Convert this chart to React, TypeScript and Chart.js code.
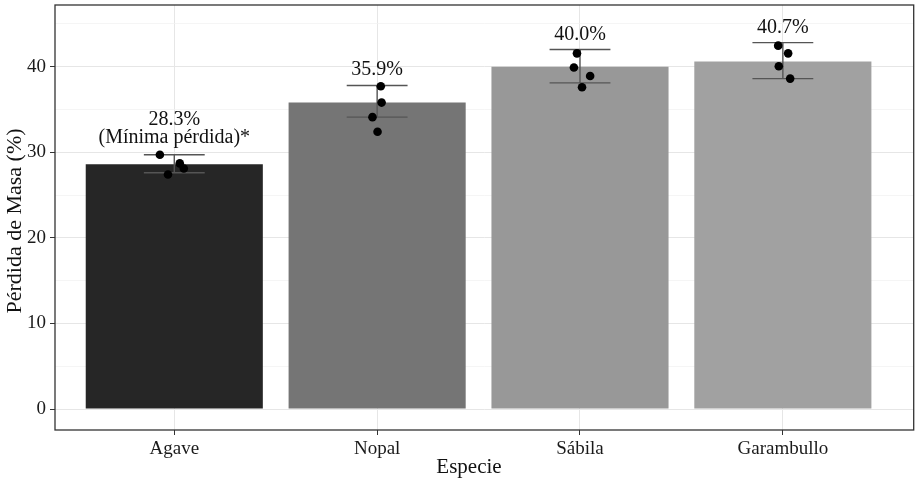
import React, { useRef, useEffect } from 'react';
import { Chart, registerables } from 'chart.js';

Chart.register(...registerables);

// values
const species = ['Agave', 'Nopal', 'Sábila', 'Garambullo'];
const meanLoss = [28.6, 35.8, 40.0, 40.6];
const errLow = [27.6, 34.1, 38.1, 38.6];
const errHigh = [29.7, 37.8, 42.0, 42.8];
const barColors = ['#262626', '#757575', '#989898', '#a1a1a1'];
const valueLabels = [['28.3%', '(Mínima pérdida)*'], ['35.9%'], ['40.0%'], ['40.7%']];

// individual replicates (x is a small jitter around the category position)
const repX = [
  0.929, 1.027, 1.047, 0.969,
  2.018, 2.022, 1.977, 2.002,
  2.985, 2.97, 3.05, 3.01,
  3.977, 4.026, 3.98, 4.036,
];
const repY = [
  29.7, 28.7, 28.1, 27.4,
  37.7, 35.8, 34.1, 32.4,
  41.55, 39.9, 38.9, 37.6,
  42.45, 41.55, 40.05, 38.6,
];

const yTicks = [0, 5, 10, 15, 20, 25, 30, 35, 40, 45];
const xTicks = [1, 2, 3, 4];
const xTitle = 'Especie';
const yTitle = 'Pérdida de Masa (%)';

const FONT = "'Liberation Serif', 'DejaVu Serif', serif";

const errorBars = {
  id: 'errorBars',
  afterDatasetDraw(chart: any, args: any) {
    if (args.meta.type !== 'bar') return;
    const { ctx, scales } = chart;
    const x = scales.x;
    const y = scales.y;
    ctx.save();
    ctx.strokeStyle = '#555555';
    ctx.lineWidth = 1.4;
    species.forEach((_, i) => {
      const cx = x.getPixelForValue(i + 1);
      const l = x.getPixelForValue(i + 1 - 0.15);
      const r = x.getPixelForValue(i + 1 + 0.15);
      const top = y.getPixelForValue(errHigh[i]);
      const bot = y.getPixelForValue(errLow[i]);
      ctx.beginPath();
      ctx.moveTo(cx, top);
      ctx.lineTo(cx, bot);
      ctx.moveTo(l, top);
      ctx.lineTo(r, top);
      ctx.moveTo(l, bot);
      ctx.lineTo(r, bot);
      ctx.stroke();
    });
    ctx.restore();
  },
};

const labelsAndBorder = {
  id: 'labelsAndBorder',
  afterDatasetsDraw(chart: any) {
    const { ctx, scales } = chart;
    ctx.save();
    ctx.fillStyle = '#111';
    ctx.font = `20px ${FONT}`;
    ctx.textAlign = 'center';
    ctx.textBaseline = 'alphabetic';
    valueLabels.forEach((lines, i) => {
      const cx = scales.x.getPixelForValue(i + 1);
      const base = scales.y.getPixelForValue(errHigh[i]) - 10;
      lines.forEach((t, k) => {
        ctx.fillText(t, cx, base - (lines.length - 1 - k) * 18.5 - (lines.length > 1 ? 1.5 : 0));
      });
    });
    ctx.restore();
  },
  afterDraw(chart: any) {
    const { ctx, chartArea } = chart;
    ctx.save();
    ctx.strokeStyle = '#333333';
    ctx.lineWidth = 1.3;
    ctx.strokeRect(chartArea.left, chartArea.top, chartArea.right - chartArea.left, chartArea.bottom - chartArea.top);

    // axis titles (sit a little off the panel centre in the original)
    ctx.fillStyle = '#111';
    ctx.textAlign = 'center';
    ctx.textBaseline = 'middle';
    ctx.font = `21px ${FONT}`;
    ctx.fillText(xTitle, 469, 467);
    ctx.translate(15, 221);
    ctx.rotate(-Math.PI / 2);
    ctx.font = `22px ${FONT}`;
    ctx.fillText(yTitle, 0, 0);
    ctx.restore();
  },
};

export default function App() {
  const canvasRef = useRef<HTMLCanvasElement>(null);
  const chartRef = useRef<Chart | null>(null);

  useEffect(() => {
    if (!canvasRef.current) return;
    if (chartRef.current) chartRef.current.destroy();

    chartRef.current = new Chart(canvasRef.current, {
      type: 'bar',
      data: {
        datasets: [
          {
            type: 'bar',
            data: meanLoss.map((v, i) => ({ x: i + 1, y: v })),
            backgroundColor: barColors,
            barPercentage: 0.873,
            categoryPercentage: 1,
            order: 2,
          },
          {
            type: 'scatter',
            data: repY.map((v, i) => ({ x: repX[i], y: v })),
            backgroundColor: '#000',
            borderWidth: 0,
            pointRadius: 4.3,
            order: 1,
          },
        ],
      } as any,
      options: {
        responsive: false,
        animation: false,
        layout: { padding: { left: 0, top: 5, right: 3, bottom: 0 } },
        plugins: {
          legend: { display: false },
          tooltip: { enabled: false },
        },
        scales: {
          x: {
            type: 'linear',
            min: 0.412,
            max: 4.645,
            offset: false,
            afterBuildTicks: (s: any) => {
              s.ticks = xTicks.map((v) => ({ value: v }));
            },
            afterFit: (s: any) => {
              s.height = 54;
              s.paddingLeft = 0;
              s.paddingRight = 0;
            },
            border: { display: false },
            grid: { offset: false, color: '#e6e6e6', lineWidth: 1, tickColor: '#333', tickLength: 5 },
            ticks: {
              padding: 3,
              color: '#1a1a1a',
              font: { family: FONT, size: 19 },
              callback: (v: any) => species[Number(v) - 1] ?? '',
            },
            title: { display: false },
          },
          y: {
            type: 'linear',
            min: -2.45,
            max: 47.2,
            afterBuildTicks: (s: any) => {
              s.ticks = yTicks.map((v) => ({ value: v }));
            },
            afterFit: (s: any) => {
              s.width = 55;
              s.paddingTop = 0;
              s.paddingBottom = 0;
            },
            border: { display: false },
            grid: {
              color: (c: any) => (c.tick && c.tick.value % 10 === 0 ? '#e6e6e6' : '#f1f1f1'),
              lineWidth: (c: any) => (c.tick && c.tick.value % 10 === 0 ? 1 : 0.7),
              tickColor: (c: any) => (c.tick && c.tick.value % 10 === 0 ? '#333' : 'rgba(0,0,0,0)'),
              tickLength: 5,
            },
            ticks: {
              padding: 4,
              color: '#1a1a1a',
              font: { family: FONT, size: 19 },
              callback: (v: any) => (Number(v) % 10 === 0 ? String(v) : ''),
            },
            title: { display: false },
          },
        },
      } as any,
      plugins: [errorBars, labelsAndBorder],
    });

    return () => {
      if (chartRef.current) {
        chartRef.current.destroy();
        chartRef.current = null;
      }
    };
  }, []);

  return (
    <div style={{ position: 'absolute', left: 0, top: 0, width: 918, height: 484, background: '#fff' }}>
      <canvas ref={canvasRef} width={918} height={484} style={{ display: 'block' }} />
    </div>
  );
}
